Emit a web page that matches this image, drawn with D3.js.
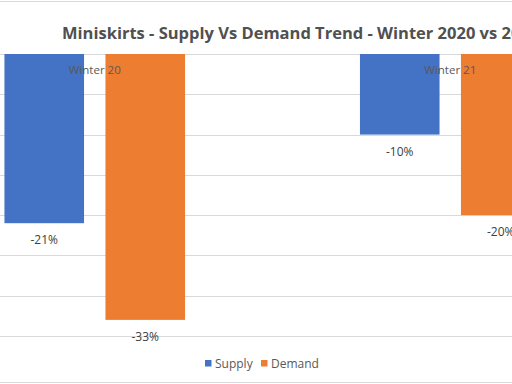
<!DOCTYPE html>
<html>
<head>
<meta charset="utf-8">
<script src="https://cdn.jsdelivr.net/npm/d3@7"></script>
<style>
  body { margin: 0; background: #fff; }
  text { font-family: "Open Sans", "Noto Sans", sans-serif; }
</style>
</head>
<body>
<script>
// chart data
const categories = ["Winter 20", "Winter 21"];
const series = ["Supply", "Demand"];
const supply = [-21, -10];
const demand = [-33, -20];
const gridTicks = [0, -5, -10, -15, -20, -25, -30, -35];
const colors = ["#4472C4", "#ED7D31"];

const width = 512, height = 384;

const svg = d3.select("body")
  .append("svg")
  .attr("width", width)
  .attr("height", height);

// chart border (mostly cropped)
svg.append("rect")
  .attr("x", -10).attr("y", 1.5)
  .attr("width", width + 20).attr("height", height - 3)
  .attr("fill", "#fff")
  .attr("stroke", "#d9d9d9");

const x0 = d3.scaleBand()
  .domain(categories)
  .range([-83, 628])
  .paddingInner(0.492)
  .paddingOuter(0.246);

const x1 = d3.scaleBand()
  .domain(series)
  .range([0, x0.bandwidth()])
  .paddingInner(0.212);

const y = d3.scaleLinear()
  .domain([-35, 0])
  .range([336, 54]);

// gridlines
svg.append("g")
  .selectAll("line")
  .data(gridTicks)
  .enter()
    .append("line")
    .attr("x1", 0).attr("x2", width)
    .attr("y1", d => Math.round(y(d)) + 0.5)
    .attr("y2", d => Math.round(y(d)) + 0.5)
    .attr("stroke", "#d9d9d9")
    .attr("stroke-width", 1);

const rows = categories.map((c, i) => ({cat: c, vals: [supply[i], demand[i]]}));

const groups = svg.append("g")
  .selectAll("g")
  .data(rows)
  .enter()
    .append("g")
    .attr("transform", d => "translate(" + x0(d.cat) + ",0)");

groups.selectAll("rect")
  .data(d => d.vals.map((v, j) => ({s: series[j], v: v, j: j})))
  .enter()
    .append("rect")
    .attr("x", d => x1(d.s))
    .attr("y", y(0))
    .attr("width", x1.bandwidth())
    .attr("height", d => y(d.v) - y(0))
    .attr("fill", d => colors[d.j]);

groups.selectAll("text.val")
  .data(d => d.vals.map((v, j) => ({s: series[j], v: v})))
  .enter()
    .append("text")
    .attr("class", "val")
    .attr("x", d => x1(d.s) + x1.bandwidth() / 2)
    .attr("y", d => y(d.v) + 21)
    .attr("text-anchor", "middle")
    .attr("font-size", 12)
    .attr("fill", "#404040")
    .text(d => d.v + "%");

// category labels sit at the zero axis, over the bars
svg.append("g")
  .selectAll("text")
  .data(categories)
  .enter()
    .append("text")
    .attr("x", d => x0(d) + x0.bandwidth() / 2)
    .attr("y", y(0) + 20)
    .attr("text-anchor", "middle")
    .attr("font-size", 11.5)
    .attr("fill", "#595959")
    .text(d => d);

// title
svg.append("text")
  .attr("x", 62)
  .attr("y", 39)
  .attr("font-size", 16.5)
  .attr("font-weight", "bold")
  .attr("fill", "#505050")
  .text("Miniskirts - Supply Vs Demand Trend - Winter 2020 vs 2021");

// legend
const legendX = [205, 261];
const legend = svg.append("g")
  .selectAll("g")
  .data(series)
  .enter()
    .append("g")
    .attr("transform", (d, i) => "translate(" + legendX[i] + ",360)");

legend.append("rect")
  .attr("width", 6.5).attr("height", 6.5)
  .attr("fill", (d, i) => colors[i]);

legend.append("text")
  .attr("x", 10)
  .attr("y", 7.5)
  .attr("font-size", 12)
  .attr("fill", "#595959")
  .text(d => d);
</script>
</body>
</html>
